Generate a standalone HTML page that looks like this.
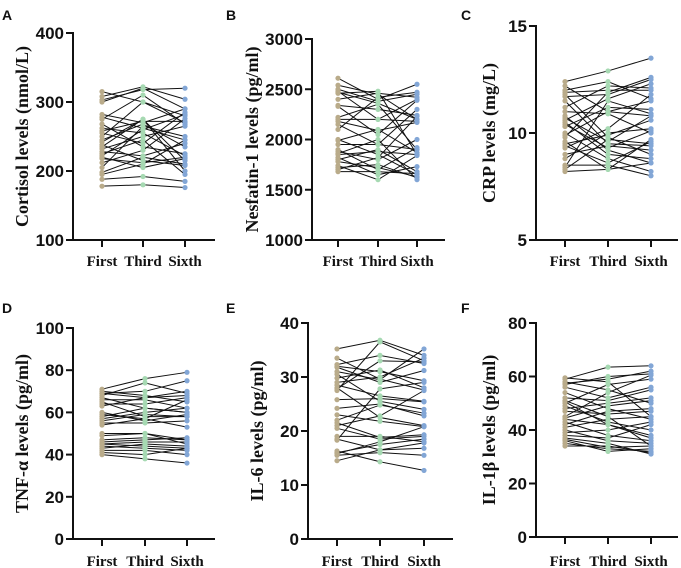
<!DOCTYPE html>
<html><head><meta charset="utf-8"><style>
html,body{margin:0;padding:0;background:#fff;}
svg{display:block;}
.tick{font:bold 17px "Liberation Sans",sans-serif;fill:#111;}
.cat{font:bold 15px "Liberation Serif",serif;fill:#111;}
.ttl{font:bold 18px "Liberation Serif",serif;fill:#111;}
.lab{font:bold 14px "Liberation Sans",sans-serif;fill:#111;}
</style></head><body>
<svg id="fig" width="681" height="568" xmlns="http://www.w3.org/2000/svg"></svg>
<script>
const categories=["First","Third","Sixth"];
const aFirst=[315,308,303,282,278,275,262,258,255,245,242,238,232,228,225,222,218,212,205,198,195,188,178,268,250,235,220,300];
const aThird=[300,322,318,270,262,310,255,272,240,268,275,215,250,222,245,260,212,230,265,220,210,192,180,235,300,275,205,320];
const aSixth=[280,304,320,290,245,268,222,272,285,235,215,208,265,240,195,282,220,276,250,210,245,185,176,225,270,200,218,290];
const aTicks=[100,200,300,400];
const bFirst=[2610,2540,2500,2480,2460,2340,2330,2220,2200,2150,2100,2000,1990,1900,1880,1860,1820,1800,1740,1720,1700,1680,2470,2180,1950,1780,2400,1850];
const bThird=[2400,2450,2380,2200,2480,2300,2050,2350,2200,1950,2420,1850,2100,1700,1800,2000,1650,1900,1600,1750,1820,1680,2360,2090,1950,1720,2460,1880];
const bSixth=[2550,2200,2450,2400,1850,2240,2390,1900,2180,2300,2470,1650,1870,1920,2000,1600,1730,1680,1840,1620,2230,1660,2200,2170,1900,1630,2420,1850];
const bTicks=[1000,1500,2000,2500,3000];
const cFirst=[12.4,12.2,12.0,11.8,11.7,11.5,11.2,11.0,10.8,10.6,10.5,10.3,10.0,9.8,9.5,9.4,9.3,9.0,8.8,8.5,8.3,8.2,11.9,10.7,9.9,9.6,10.4,8.4];
const cThird=[12.9,11.0,12.4,9.8,11.8,9.5,12.2,10.9,9.2,11.6,9.0,11.2,8.8,11.9,9.9,8.6,10.2,9.4,10.0,8.5,9.7,8.3,12.0,9.6,11.0,8.3,9.3,11.5];
const cSixth=[13.5,10.8,11.6,9.0,12.5,9.4,12.1,10.0,8.6,12.3,8.8,11.1,8.2,12.6,10.6,9.6,11.8,9.2,10.2,8.0,9.5,8.6,12.0,10.8,11.5,9.7,10.1,10.9];
const cTicks=[5,10,15];
const dFirst=[71,70,69,69,68,67,66,65,64,60,59,58,57,55,54,50,49,46,45,45,44,43,42,41,40,56,63,47];
const dThird=[76,68,70,67,74,62,66,58,64,56,57,62,60,55,57,50,50,47,44,46,43,45,42,40,38,59,67,48];
const dSixth=[79,65,75,68,69,60,62,58,67,59,53,60,62,56,66,47,45,48,43,46,42,44,40,43,36,58,70,47];
const dTicks=[0,20,40,60,80,100];
const eFirst=[35.2,33.5,32.3,32.0,31.0,30.5,29.8,29.0,28.0,27.8,25.8,24.2,23.0,21.5,21.0,20.5,18.5,18.3,16.3,16.0,15.5,14.5,31.8,27.5,22.0,19.0,15.8,28.5];
const eThird=[36.8,29.6,34.0,31.0,29.5,25.5,31.3,30.0,22.5,33.0,26.0,25.0,21.8,18.8,22.8,18.5,16.5,27.8,14.3,17.5,16.0,16.5,29.0,36.5,24.8,19.0,18.0,26.5];
const eSixth=[34.0,27.6,32.5,29.3,35.2,24.0,28.0,33.5,21.0,32.8,25.4,22.8,20.8,19.3,27.5,19.0,17.8,29.0,12.7,18.5,15.5,16.8,31.2,33.0,23.3,18.0,20.8,25.5];
const eTicks=[0,10,20,30,40];
const fFirst=[59.5,59,58,57,56,54,51,50,49,48,45,44,43,42,40,38,37,36,35,34,57.5,50.5,44.5,39,36.5,47,41,52];
const fThird=[58,63.5,55,60,52,48,45,57,43,50,54,42,38,47,36,37,35,32,33,34,59,42,49,40,33.5,46,44,51];
const fSixth=[45,64,50,61,56,44,34,59,40,52,60.5,38,36,48,35,42,31,33,32,31.5,62,37,51,43,34,47,45,55];
const fTicks=[0,20,40,60,80];

const NS="http://www.w3.org/2000/svg";
const svg=document.getElementById('fig');
const colors=["#b9ab8a","#a6d9b2","#82a6d6"];
function mk(tag,attrs,parent,text){const e=document.createElementNS(NS,tag);for(const k in attrs)e.setAttribute(k,attrs[k]);if(text!==undefined)e.textContent=text;parent.appendChild(e);return e;}
const panels=[
 {id:'a',letter:'A',lx:2,ly:20,title:'Cortisol levels (nmol/L)',series:[aFirst,aThird,aSixth],ticks:aTicks,ax:73,xEnd:215,yTop:33,yBot:240,cx:[102,143,185],tx:24,catY:266},
 {id:'b',letter:'B',lx:226,ly:20,title:'Nesfatin-1 levels (pg/ml)',series:[bFirst,bThird,bSixth],ticks:bTicks,ax:312,xEnd:445,yTop:39,yBot:240,cx:[338,378,417],tx:254,catY:266},
 {id:'c',letter:'C',lx:461,ly:20,title:'CRP levels (mg/L)',series:[cFirst,cThird,cSixth],ticks:cTicks,ax:536,xEnd:678,yTop:26,yBot:240,cx:[565,608,651],tx:491,catY:266},
 {id:'d',letter:'D',lx:2,ly:313,title:'TNF-α levels (pg/ml)',series:[dFirst,dThird,dSixth],ticks:dTicks,ax:73,xEnd:215,yTop:328,yBot:539,cx:[102,145,187],tx:24,catY:566},
 {id:'e',letter:'E',lx:226,ly:313,title:'IL-6 levels (pg/ml)',series:[eFirst,eThird,eSixth],ticks:eTicks,ax:308,xEnd:453,yTop:323,yBot:539,cx:[337,380,424],tx:259,catY:566},
 {id:'f',letter:'F',lx:461,ly:313,title:'IL-1β levels (pg/ml)',series:[fFirst,fThird,fSixth],ticks:fTicks,ax:536,xEnd:678,yTop:323,yBot:537,cx:[565,608,651],tx:491,catY:566}
];
panels.forEach(p=>{
  const g=mk('g',{},svg);
  
  
  const lo=p.ticks[0],hi=p.ticks[p.ticks.length-1];
  const y=v=>p.yBot-(v-lo)/(hi-lo)*(p.yBot-p.yTop);
  const L=mk('text',{x:p.lx,y:p.ly,class:'lab'},g,p.letter);
  
  
  const T=mk('text',{x:p.tx,y:(p.yTop+p.yBot)/2,class:'ttl','text-anchor':'middle',transform:`rotate(-90 ${p.tx} ${(p.yTop+p.yBot)/2})`,'dominant-baseline':'middle'},g,p.title);
  
  
  const n=p.series[0].length;
  for(let i=0;i<n;i++){
    const pts=p.series.map((s,j)=>p.cx[j]+','+y(s[i])).join(' ');
    const pl=mk('polyline',{points:pts,fill:'none',stroke:'#111','stroke-width':1},g);
    
    
  }
  p.series.forEach((s,j)=>{
    s.forEach(v=>{
      const c=mk('circle',{cx:p.cx[j],cy:y(v),r:2.6,fill:colors[j]},g);
      
      
    });
  });
  const ya=mk('line',{x1:p.ax,y1:p.yTop-1,x2:p.ax,y2:p.yBot+1,stroke:'#111','stroke-width':2},g);
  
  
  const xa=mk('line',{x1:p.ax-1,y1:p.yBot,x2:p.xEnd,y2:p.yBot,stroke:'#111','stroke-width':2},g);
  
  
  p.ticks.forEach(t=>{
    mk('line',{x1:p.ax-7,y1:y(t),x2:p.ax,y2:y(t),stroke:'#111','stroke-width':2},g);
    const tl=mk('text',{x:p.ax-9,y:y(t)+6,class:'tick','text-anchor':'end'},g,String(t));
    
    
  });
  categories.forEach((c,j)=>{
    mk('line',{x1:p.cx[j],y1:p.yBot,x2:p.cx[j],y2:p.yBot+7,stroke:'#111','stroke-width':2},g);
    const cl=mk('text',{x:p.cx[j],y:p.catY,class:'cat','text-anchor':'middle'},g,c);
    
    
  });
});
</script>
</body></html>
